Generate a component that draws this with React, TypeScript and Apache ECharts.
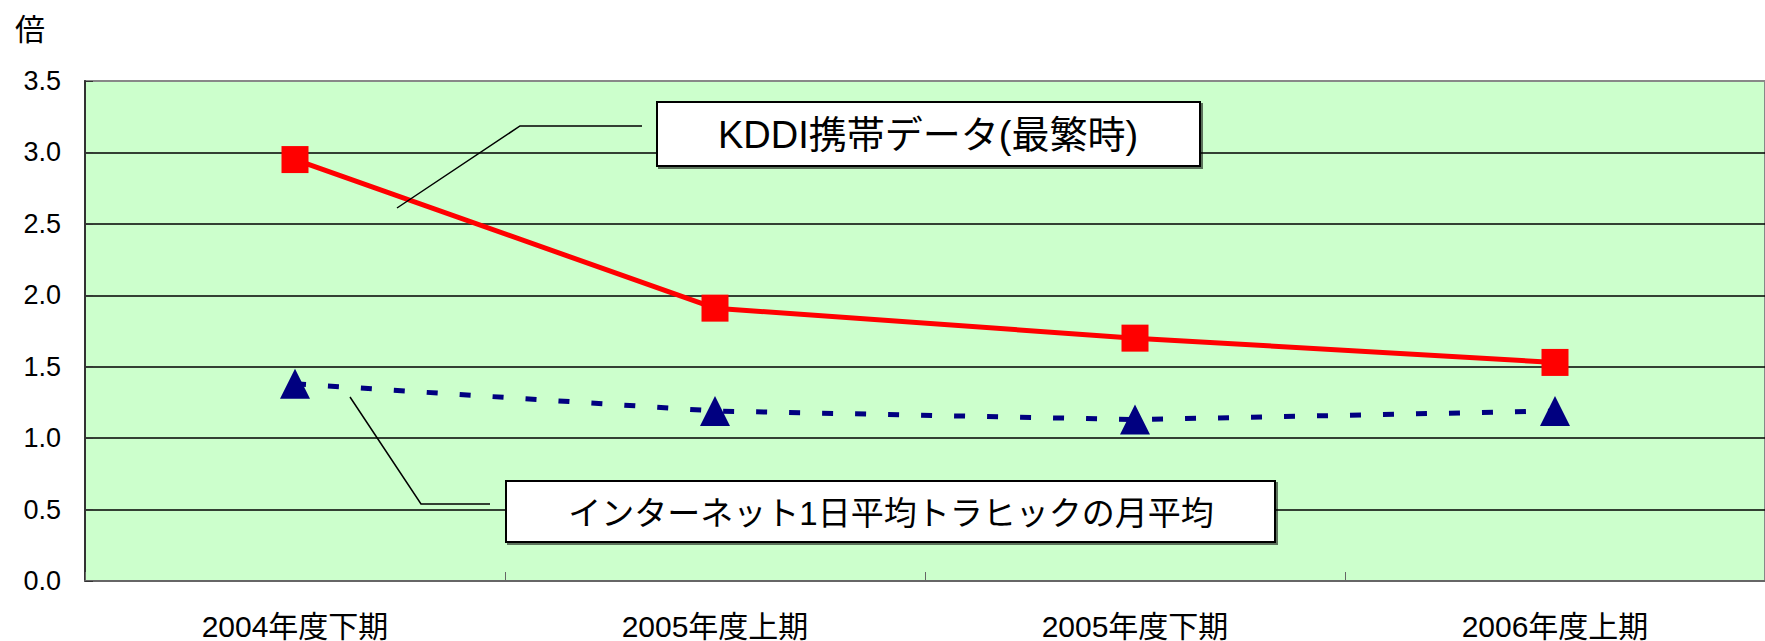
import React, { useEffect, useRef } from "react";
import * as echarts from "echarts";

const categories = ["2004年度下期", "2005年度上期", "2005年度下期", "2006年度上期"];
const kddiValues = [2.95, 1.91, 1.7, 1.53];
const internetValues = [1.38, 1.19, 1.13, 1.19];
const kddiLabel = "KDDI携帯データ(最繁時)";
const internetLabel = "インターネット1日平均トラヒックの月平均";
const unitLabel = "倍";

const FONT = "'Liberation Sans', 'Noto Sans CJK JP', sans-serif";

export default function App() {
  const ref = useRef<HTMLDivElement>(null);
  useEffect(() => {
    if (!ref.current) return;
    const chart = echarts.init(ref.current, null, { renderer: "svg" });
    chart.setOption({
      animation: false,
      backgroundColor: "#ffffff",
      textStyle: { fontFamily: FONT },
      grid: {
        left: 85,
        top: 81,
        width: 1692,
        height: 502,
        show: true,
        backgroundColor: "#CCFFCC",
        borderColor: "#888888",
        borderWidth: 2,
      },
      xAxis: {
        type: "category",
        data: categories,
        boundaryGap: true,
        axisLine: { show: true, lineStyle: { color: "#666666", width: 2 } },
        axisTick: { show: true, inside: true, length: 9, lineStyle: { color: "#666666", width: 1 } },
        axisLabel: {
          color: "#000",
          fontSize: 30,
          lineHeight: 30,
          margin: 30,
          fontFamily: FONT,
        },
        splitLine: { show: false },
      },
      yAxis: {
        type: "value",
        min: 0,
        max: 3.5,
        interval: 0.5,
        axisLine: { show: true, lineStyle: { color: "#333333", width: 2 } },
        axisTick: { show: true, inside: true, length: 8, lineStyle: { color: "#333333", width: 1 } },
        axisLabel: {
          color: "#000",
          fontSize: 27,
          margin: 24,
          fontFamily: FONT,
          formatter: (v: number) => v.toFixed(1),
        },
        splitLine: {
          show: true,
          lineStyle: {
            color: ["#000", "#000", "#000", "#000", "#000", "#000", "#000", "#888888"],
            width: 1.5,
          },
        },
      },
      series: [
        {
          name: kddiLabel,
          type: "line",
          data: kddiValues,
          symbol: "rect",
          symbolSize: 27,
          itemStyle: { color: "#FF0000" },
          lineStyle: { color: "#FF0000", width: 5 },
          z: 3,
        },
        {
          name: internetLabel,
          type: "line",
          data: internetValues,
          symbol: "triangle",
          symbolSize: [30, 30],
          itemStyle: { color: "#000080" },
          lineStyle: { color: "#000080", width: 5, type: [11, 22] },
          z: 3,
        },
      ],
      graphic: [
        {
          type: "text",
          x: 15,
          y: 29,
          style: {
            text: unitLabel,
            fill: "#000",
            font: `30px ${FONT}`,
            align: "left",
            verticalAlign: "middle",
            textAlign: "left",
            textVerticalAlign: "middle",
          },
        },
        {
          type: "polyline",
          z: 100,
          shape: { points: [[397, 208], [520, 126], [642, 126]] },
          style: { stroke: "#000", lineWidth: 1.5, fill: "none" },
        },
        {
          type: "polyline",
          z: 100,
          shape: { points: [[350, 397], [421, 504], [490, 504]] },
          style: { stroke: "#000", lineWidth: 1.5, fill: "none" },
        },
        {
          type: "rect",
          z: 100,
          shape: { x: 657, y: 102, width: 543, height: 64 },
          style: {
            fill: "#fff",
            stroke: "#000",
            lineWidth: 2,
            shadowColor: "rgba(0,0,0,0.55)",
            shadowOffsetX: 2,
            shadowOffsetY: 2,
            shadowBlur: 1,
          },
        },
        {
          type: "text",
          z: 101,
          x: 928,
          y: 135,
          style: {
            text: kddiLabel,
            fill: "#000",
            font: `38px ${FONT}`,
            align: "center",
            verticalAlign: "middle",
            textAlign: "center",
            textVerticalAlign: "middle",
          },
        },
        {
          type: "rect",
          z: 100,
          shape: { x: 506, y: 481, width: 769, height: 61 },
          style: {
            fill: "#fff",
            stroke: "#000",
            lineWidth: 2,
            shadowColor: "rgba(0,0,0,0.55)",
            shadowOffsetX: 2,
            shadowOffsetY: 2,
            shadowBlur: 1,
          },
        },
        {
          type: "text",
          z: 101,
          x: 891,
          y: 513,
          style: {
            text: internetLabel,
            fill: "#000",
            font: `33px ${FONT}`,
            align: "center",
            verticalAlign: "middle",
            textAlign: "center",
            textVerticalAlign: "middle",
          },
        },
      ],
    });
    return () => chart.dispose();
  }, []);
  return (
    <div
      ref={ref}
      style={{ position: "fixed", left: 0, top: 0, width: 1765, height: 641 }}
    />
  );
}
